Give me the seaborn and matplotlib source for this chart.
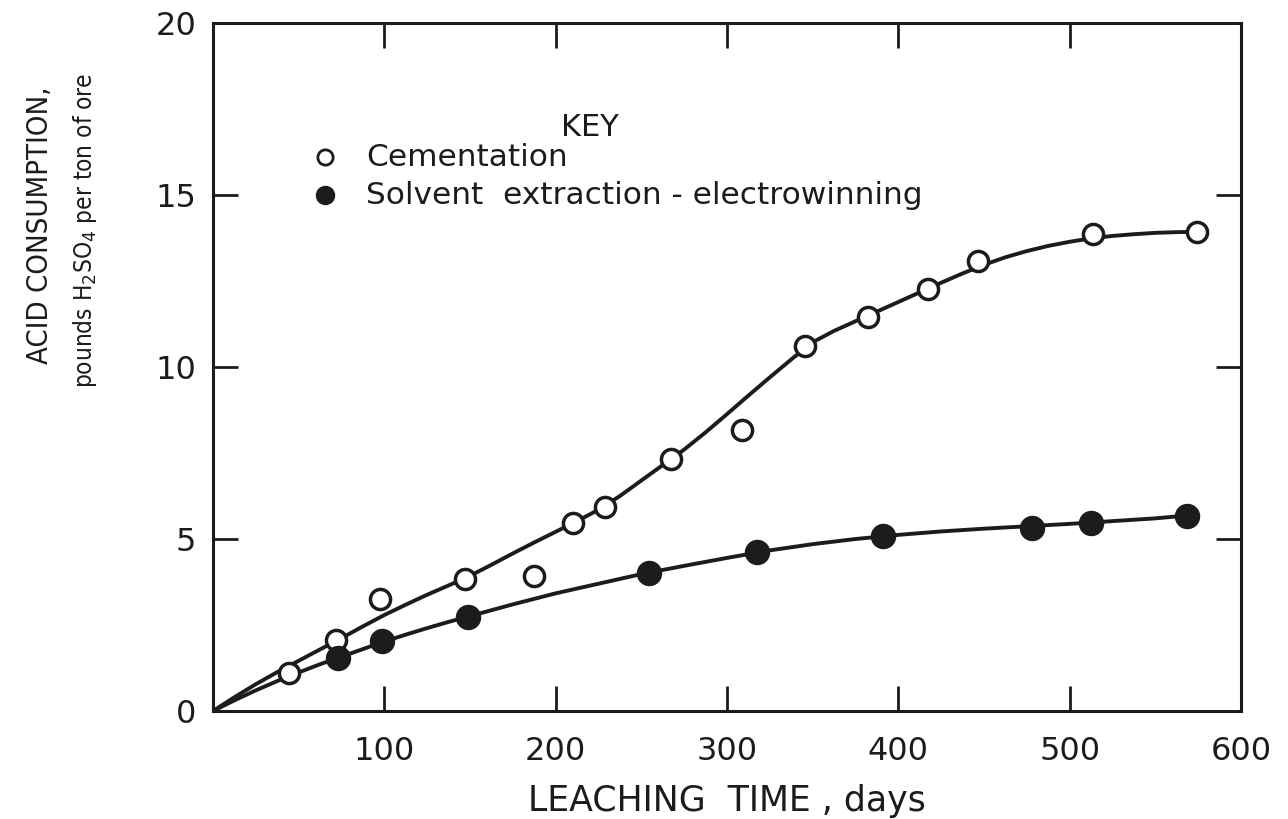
import matplotlib
matplotlib.use("Agg")
import matplotlib.pyplot as plt
from matplotlib import font_manager
import numpy as np
import pandas as pd
import seaborn as sns

# ---- data ----
cem_days = [44.5, 71.7, 97.3, 147.3, 187.6, 210.0, 229.0, 267.3, 308.7, 345.4, 382.5, 417.4, 446.6, 513.4, 574.6]
cem_acid = [1.11, 2.06, 3.25, 3.83, 3.92, 5.47, 5.94, 7.32, 8.17, 10.61, 11.44, 12.26, 13.08, 13.86, 13.92]

sx_days = [73.0, 98.9, 148.8, 254.3, 317.8, 391.0, 478.0, 512.6, 568.4]
sx_acid = [1.53, 2.04, 2.74, 4.02, 4.63, 5.09, 5.33, 5.46, 5.68]

# hand-drawn fitted curves
cem_curve_days = [0, 12.5, 25, 37.5, 50, 62.5, 75, 87.5, 100, 112.5, 125, 137.5, 150, 162.5, 175,
                  187.5, 200, 212.5, 225, 237.5, 250, 262.5, 275, 287.5, 300, 312.5, 325, 337.5,
                  350, 362.5, 375, 387.5, 400, 412.5, 425, 437.5, 450, 462.5, 475, 487.5, 500,
                  512.5, 525, 537.5, 550, 562.5, 575]
cem_curve_acid = [0, 0.4, 0.78, 1.13, 1.46, 1.79, 2.12, 2.46, 2.79, 3.09, 3.38, 3.65, 3.93, 4.25, 4.58,
                  4.9, 5.21, 5.52, 5.85, 6.25, 6.7, 7.15, 7.6, 8.1, 8.63, 9.17, 9.7, 10.22,
                  10.72, 11.05, 11.33, 11.61, 11.89, 12.17, 12.45, 12.72, 12.97, 13.19, 13.37, 13.52, 13.64,
                  13.74, 13.81, 13.86, 13.9, 13.92, 13.93]

sx_curve_days = [0, 12.5, 25, 37.5, 50, 62.5, 75, 87.5, 100, 112.5, 125, 137.5, 150, 175, 200,
                 225, 250, 275, 300, 325, 350, 375, 400, 425, 450, 475, 500, 525, 550, 568]
sx_curve_acid = [0, 0.31, 0.6, 0.87, 1.12, 1.36, 1.58, 1.8, 2.02, 2.22, 2.41, 2.59, 2.76, 3.1, 3.42,
                 3.7, 3.98, 4.22, 4.45, 4.67, 4.85, 5.0, 5.12, 5.22, 5.3, 5.37, 5.44, 5.52, 5.6, 5.68]

x_ticks = [100, 200, 300, 400, 500, 600]
y_ticks = [0, 5, 10, 15, 20]

legend_title = "KEY"
legend_labels = ["Cementation", "Solvent  extraction - electrowinning"]

# ---- styling ----
sns.set_theme(style="white")
plt.rcParams['font.family'] = ['DejaVu Sans']
ink = "#1c1c1c"


def has_font(name):
    try:
        font_manager.findfont(name, fallback_to_default=False)
        return True
    except Exception:
        return False


narrow = "Liberation Sans Narrow" if has_font("Liberation Sans Narrow") else None

W, H = 1288, 819
fig = plt.figure(figsize=(W / 100, H / 100), dpi=100)
ax_l, ax_r, ax_t, ax_b = 213, 1241, 23, 711
ax = fig.add_axes([ax_l / W, 1 - ax_b / H, (ax_r - ax_l) / W, (ax_b - ax_t) / H])


def axfrac(px, py):
    return (px - ax_l) / (ax_r - ax_l), 1 - (py - ax_t) / (ax_b - ax_t)


sns.lineplot(x=cem_curve_days, y=cem_curve_acid, ax=ax, color=ink, lw=2.8, zorder=2)
sns.lineplot(x=sx_curve_days, y=sx_curve_acid, ax=ax, color=ink, lw=2.8, zorder=2)

sns.scatterplot(x=cem_days, y=cem_acid, ax=ax, s=210, marker="o",
                facecolor="white", edgecolor=ink, linewidth=2.5, zorder=3)
sns.scatterplot(x=sx_days, y=sx_acid, ax=ax, s=300, marker="o",
                color=ink, edgecolor=ink, linewidth=1, zorder=3)

ax.set_xlim(0, 600)
ax.set_ylim(0, 20)
ax.set_xticks(x_ticks)
ax.set_xticklabels([str(v) for v in x_ticks])
ax.set_yticks(y_ticks)
ax.set_yticklabels([str(v) for v in y_ticks])

for sp in ax.spines.values():
    sp.set_visible(True)
    sp.set_color(ink)
    sp.set_linewidth(2.2)

ax.tick_params(axis="both", direction="in", length=18, width=2.0, color=ink,
               labelsize=23, labelcolor=ink, top=True, right=True, bottom=True, left=True,
               labeltop=False, labelright=False, labelbottom=True, labelleft=True)
ax.tick_params(axis="x", pad=18)
ax.tick_params(axis="y", pad=12)

ax.set_xlabel("LEACHING  TIME , days", fontsize=25, color=ink)
ax.xaxis.set_label_coords(0.5, axfrac(0, 801)[1])
ax.xaxis.label.set_va("center")
ax.set_ylabel("")

if narrow:
    y1kw = dict(family=[narrow, "DejaVu Sans"], fontsize=26)
    y2kw = dict(family=[narrow, "DejaVu Sans"], fontsize=20.5)
else:
    y1kw = dict(family=["DejaVu Sans"], fontstretch="condensed", fontsize=21)
    y2kw = dict(family=["DejaVu Sans"], fontstretch="condensed", fontsize=17.5)

fig.text(40 / W, 1 - 225 / H, "ACID CONSUMPTION,", rotation=90,
         color=ink, ha="center", va="center", **y1kw)
fig.text(85 / W, 1 - 230 / H, r"pounds H$_2$SO$_4$ per ton of ore", rotation=90,
         color=ink, ha="center", va="center", **y2kw)

# key (legend) drawn at its place in the axes
ax.text(*axfrac(590, 128), legend_title, transform=ax.transAxes, fontsize=22,
        color=ink, ha="center", va="center")
ax.plot(*axfrac(325, 157), transform=ax.transAxes, marker="o", ls="none", markersize=11,
        markerfacecolor="white", markeredgecolor=ink, markeredgewidth=2, clip_on=False)
ax.plot(*axfrac(325, 195), transform=ax.transAxes, marker="o", ls="none", markersize=13,
        markerfacecolor=ink, markeredgecolor=ink, clip_on=False)
ax.text(*axfrac(366, 157), legend_labels[0], transform=ax.transAxes, fontsize=22.5,
        color=ink, ha="left", va="center")
ax.text(*axfrac(366, 195), legend_labels[1], transform=ax.transAxes, fontsize=22.5,
        color=ink, ha="left", va="center")

fig.savefig("out.png", dpi=100, facecolor="white")
